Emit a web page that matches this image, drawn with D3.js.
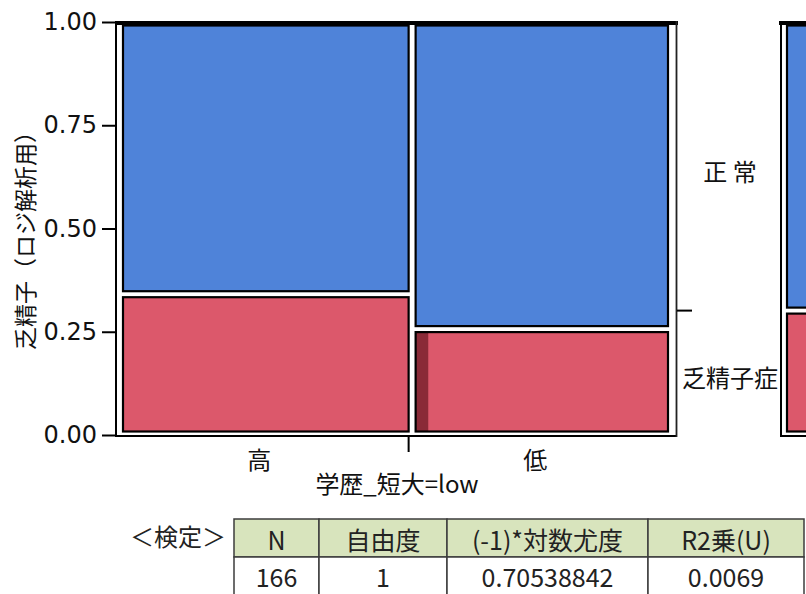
<!DOCTYPE html>
<html>
<head>
<meta charset="utf-8">
<script src="https://cdn.jsdelivr.net/npm/d3@7"></script>
<style>
  html, body { margin: 0; padding: 0; background: #ffffff; }
  svg { display: block; }
</style>
</head>
<body>
<svg id="chart" width="806" height="594"></svg>
<script>
// x categories (学歴_短大=low) and response levels, bottom to top
const xCategories = ["高", "低"];
const responseLevels = ["乏精子症", "正常"];
const responseLabels = ["乏精子症", "正 常"];
// row counts per x category: [乏精子症, 正常]
const countsHigh = [30, 58];
const countsLow = [20, 58];
// highlighted rows per x category: [乏精子症, 正常]
const selectedHigh = [0, 0];
const selectedLow = [1, 0];
const yTickValues = [0, 0.25, 0.5, 0.75, 1.0];
// test results table
const tableCaption = "＜検定＞";
const tableHeaders = ["N", "自由度", "(-1)*対数尤度", "R2乗(U)"];
const tableValues = ["166", "1", "0.70538842", "0.0069"];

const jpFont = "'Noto Sans CJK JP', 'Noto Sans', sans-serif";
const numFont = "'DejaVu Sans', Verdana, sans-serif";
const fillColors = { "乏精子症": "#dc586b", "正常": "#4f83d9" };
const selectedColor = "#8a2a37";

const counts = [countsHigh, countsLow];
const selected = [selectedHigh, selectedLow];
const totals = counts.map(c => d3.sum(c));
const grandTotal = d3.sum(totals);
const levelTotals = responseLevels.map((_, j) => d3.sum(counts, c => c[j]));

const svg = d3.select("#chart");

// scales
const x = d3.scaleLinear().domain([0, grandTotal]).range([116, 668]);
const y = d3.scaleLinear().domain([0, 1]).range([435, 22]);

// build cells
const cells = [];
let cum = 0;
xCategories.forEach((cat, i) => {
  const c0 = cum, c1 = cum + totals[i];
  let p = 0;
  responseLevels.forEach((lev, j) => {
    const p0 = p, p1 = p + counts[i][j] / totals[i];
    cells.push({
      cat, lev,
      x0: x(c0) + 7, x1: x(c1),
      yTop: p1 >= 1 ? y(p1) + 3.5 : y(p1) + 3,
      yBot: p0 <= 0 ? y(p0) - 3.5 : y(p0) - 3,
      sel: selected[i][j] / counts[i][j]
    });
    p = p1;
  });
  cum = c1;
});

const g = svg.append("g");

// cell fills
g.selectAll("rect.fill").data(cells).join("rect")
  .attr("class", "fill")
  .attr("x", d => d.x0).attr("y", d => d.yTop)
  .attr("width", d => d.x1 - d.x0).attr("height", d => d.yBot - d.yTop)
  .attr("fill", d => fillColors[d.lev]);

// highlighted share inside cells
g.selectAll("rect.sel").data(cells.filter(d => d.sel > 0)).join("rect")
  .attr("class", "sel")
  .attr("x", d => d.x0).attr("y", d => d.yTop)
  .attr("width", d => (d.x1 - d.x0) * d.sel).attr("height", d => d.yBot - d.yTop)
  .attr("fill", selectedColor);

// cell outlines
g.selectAll("rect.edge").data(cells).join("rect")
  .attr("class", "edge")
  .attr("x", d => d.x0).attr("y", d => d.yTop)
  .attr("width", d => d.x1 - d.x0).attr("height", d => d.yBot - d.yTop)
  .attr("fill", "none").attr("stroke", "#000").attr("stroke-width", 2.2);

// frame
g.append("line").attr("x1", 116).attr("x2", 116).attr("y1", 21).attr("y2", 437)
  .attr("stroke", "#000").attr("stroke-width", 2);
g.append("line").attr("x1", 115).attr("x2", 678).attr("y1", 23).attr("y2", 23)
  .attr("stroke", "#000").attr("stroke-width", 4);
g.append("line").attr("x1", 115).attr("x2", 677).attr("y1", 436).attr("y2", 436)
  .attr("stroke", "#000").attr("stroke-width", 2);
g.append("line").attr("x1", 676.5).attr("x2", 676.5).attr("y1", 21).attr("y2", 437)
  .attr("stroke", "#222").attr("stroke-width", 1.8);

// y axis
const yAxis = d3.axisLeft(y).tickValues(yTickValues).tickFormat(d3.format(".2f"))
  .tickSize(14).tickPadding(5);
const yAxisG = svg.append("g").attr("transform", "translate(116,0)").call(yAxis);
yAxisG.select(".domain").remove();
yAxisG.selectAll(".tick line").attr("stroke", "#000").attr("stroke-width", 2);
yAxisG.selectAll(".tick text").attr("fill", "#111")
  .style("font-family", numFont).style("font-size", "24px");

// x axis: boundary tick and category labels
const boundaries = d3.cumsum(totals).slice(0, -1);
svg.selectAll("line.xtick").data(boundaries).join("line")
  .attr("class", "xtick")
  .attr("x1", d => x(d)).attr("x2", d => x(d))
  .attr("y1", 436).attr("y2", 452)
  .attr("stroke", "#000").attr("stroke-width", 2);

const starts = [0, ...boundaries];
svg.selectAll("text.xcat").data(xCategories).join("text")
  .attr("class", "xcat")
  .attr("x", (d, i) => (x(starts[i]) + x(starts[i] + totals[i])) / 2 - 3)
  .attr("y", 458)
  .attr("text-anchor", "middle").attr("dominant-baseline", "central")
  .attr("fill", "#111")
  .style("font-family", jpFont).style("font-size", "24px")
  .text(d => d);

// axis titles
svg.append("text")
  .attr("x", 397).attr("y", 482)
  .attr("text-anchor", "middle").attr("dominant-baseline", "central")
  .attr("fill", "#111")
  .style("font-family", jpFont).style("font-size", "24px")
  .text("学歴_短大=low");

svg.append("text")
  .attr("transform", "translate(24,235) rotate(-90)")
  .attr("text-anchor", "middle").attr("dominant-baseline", "central")
  .attr("fill", "#111")
  .style("font-family", jpFont).style("font-size", "23px")
  .text("乏精子（ロジ解析用）");

// marginal split tick and level labels
let pm = 0;
const margins = responseLevels.map((lev, j) => {
  const p0 = pm, p1 = pm + levelTotals[j] / grandTotal;
  pm = p1;
  return { lev, label: responseLabels[j], p0, p1 };
});
svg.selectAll("line.mtick").data(margins.slice(0, -1)).join("line")
  .attr("class", "mtick")
  .attr("x1", 677).attr("x2", 692)
  .attr("y1", d => y(d.p1)).attr("y2", d => y(d.p1))
  .attr("stroke", "#000").attr("stroke-width", 2);

svg.selectAll("text.mlab").data(margins).join("text")
  .attr("class", "mlab")
  .attr("x", 730)
  .attr("y", d => (y(d.p0) + y(d.p1)) / 2 + 4)
  .attr("text-anchor", "middle").attr("dominant-baseline", "central")
  .attr("fill", "#111")
  .style("font-family", jpFont).style("font-size", "24px")
  .text(d => d.label);

// overall marginal column at right edge
const mg = svg.append("g");
const mx0 = 787, mx1 = 840;
mg.selectAll("rect.mfill").data(margins).join("rect")
  .attr("class", "mfill")
  .attr("x", mx0)
  .attr("y", d => d.p1 >= 1 ? y(d.p1) + 3.5 : y(d.p1) + 3)
  .attr("width", mx1 - mx0)
  .attr("height", d => (d.p0 <= 0 ? y(d.p0) - 3.5 : y(d.p0) - 3) - (d.p1 >= 1 ? y(d.p1) + 3.5 : y(d.p1) + 3))
  .attr("fill", d => fillColors[d.lev])
  .attr("stroke", "#000").attr("stroke-width", 2.2);
mg.append("line").attr("x1", 781).attr("x2", 781).attr("y1", 21).attr("y2", 437)
  .attr("stroke", "#000").attr("stroke-width", 2);
mg.append("line").attr("x1", 779).attr("x2", 806).attr("y1", 23).attr("y2", 23)
  .attr("stroke", "#000").attr("stroke-width", 4);
mg.append("line").attr("x1", 780).attr("x2", 806).attr("y1", 436).attr("y2", 436)
  .attr("stroke", "#000").attr("stroke-width", 2);

// results table
const colEdges = [234, 319, 447, 648, 804];
const rowEdges = [519, 557, 600];
const tg = svg.append("g");
tg.append("text")
  .attr("x", 178).attr("y", (rowEdges[0] + rowEdges[1]) / 2 - 3)
  .attr("text-anchor", "middle").attr("dominant-baseline", "central")
  .attr("fill", "#222")
  .style("font-family", jpFont).style("font-size", "24px")
  .text(tableCaption);

tg.selectAll("rect.hdr").data(tableHeaders).join("rect")
  .attr("class", "hdr")
  .attr("x", (d, i) => colEdges[i]).attr("y", rowEdges[0])
  .attr("width", (d, i) => colEdges[i + 1] - colEdges[i])
  .attr("height", rowEdges[1] - rowEdges[0])
  .attr("fill", "#d8e4bd").attr("stroke", "#3c3c3c").attr("stroke-width", 1.5);
tg.selectAll("rect.val").data(tableValues).join("rect")
  .attr("class", "val")
  .attr("x", (d, i) => colEdges[i]).attr("y", rowEdges[1])
  .attr("width", (d, i) => colEdges[i + 1] - colEdges[i])
  .attr("height", rowEdges[2] - rowEdges[1])
  .attr("fill", "#ffffff").attr("stroke", "#3c3c3c").attr("stroke-width", 1.5);

tg.selectAll("text.hdr").data(tableHeaders).join("text")
  .attr("class", "hdr")
  .attr("x", (d, i) => (colEdges[i] + colEdges[i + 1]) / 2)
  .attr("y", (rowEdges[0] + rowEdges[1]) / 2 + 1)
  .attr("text-anchor", "middle").attr("dominant-baseline", "central")
  .attr("fill", "#222")
  .style("font-family", jpFont).style("font-size", "25px")
  .text(d => d);
tg.selectAll("text.val").data(tableValues).join("text")
  .attr("class", "val")
  .attr("x", (d, i) => (colEdges[i] + colEdges[i + 1]) / 2)
  .attr("y", 576)
  .attr("text-anchor", "middle").attr("dominant-baseline", "central")
  .attr("fill", "#222")
  .style("font-family", jpFont).style("font-size", "25px")
  .text(d => d);
</script>
</body>
</html>
